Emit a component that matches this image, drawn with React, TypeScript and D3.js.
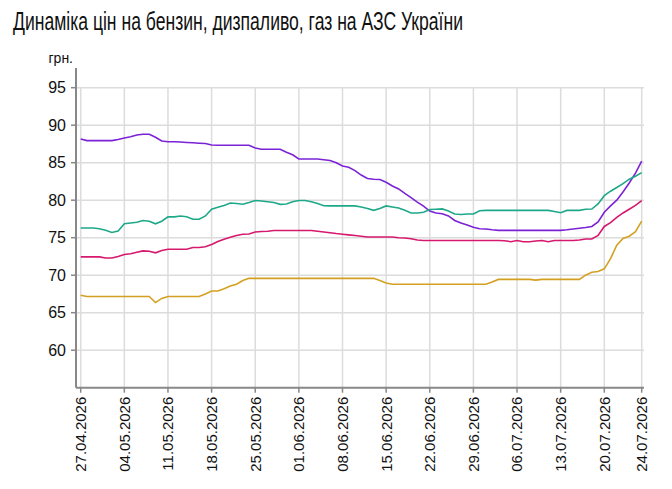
import * as d3 from "d3"
import * as React from "react"

const title = "Динаміка цін на бензин, дизпаливо, газ на АЗС України"
const unitLabel = "грн."

const tickLabels = [
  "27.04.2026", "04.05.2026", "11.05.2026", "18.05.2026", "25.05.2026",
  "01.06.2026", "08.06.2026", "15.06.2026", "22.06.2026", "29.06.2026",
  "06.07.2026", "13.07.2026", "20.07.2026", "24.07.2026",
]
const tickIndex = [0, 7, 14, 21, 28, 35, 42, 49, 56, 63, 70, 77, 84, 90]
const yTicks = [60, 65, 70, 75, 80, 85, 90, 95]

// A-95
const purple = [
  88.15, 87.95, 87.95, 87.95, 87.95, 87.95, 88.1, 88.3, 88.45, 88.7,
  88.8, 88.8, 88.4, 87.9, 87.8, 87.8, 87.75, 87.7, 87.65, 87.6,
  87.55, 87.35, 87.33, 87.33, 87.33, 87.33, 87.33, 87.33, 86.95, 86.8,
  86.8, 86.8, 86.8, 86.4, 86.05, 85.5, 85.5, 85.5, 85.5, 85.4,
  85.3, 85.0, 84.55, 84.4, 83.95, 83.35, 82.9, 82.8, 82.75, 82.4,
  81.9, 81.5, 80.9, 80.35, 79.75, 79.2, 78.55, 78.3, 78.2, 77.9,
  77.3, 76.95, 76.7, 76.38, 76.2, 76.15, 76.05, 75.98, 75.98, 75.98,
  75.98, 75.98, 75.98, 75.98, 75.98, 75.98, 75.98, 75.98, 76.05, 76.16,
  76.25, 76.35, 76.5, 77.1, 78.4, 79.25, 80.0, 81.1, 82.3, 83.6,
  85.2,
]
// A-92
const teal = [
  76.3, 76.3, 76.3, 76.2, 76.0, 75.7, 75.9, 76.85, 76.95, 77.05,
  77.3, 77.2, 76.85, 77.2, 77.78, 77.78, 77.9, 77.8, 77.47, 77.47,
  77.9, 78.8, 79.05, 79.3, 79.62, 79.55, 79.47, 79.7, 79.96, 79.9,
  79.8, 79.7, 79.45, 79.5, 79.8, 79.96, 79.96, 79.8, 79.55, 79.25,
  79.24, 79.24, 79.24, 79.24, 79.24, 79.1, 78.9, 78.65, 78.9, 79.24,
  79.1, 78.95, 78.65, 78.3, 78.3, 78.4, 78.75, 78.8, 78.84, 78.55,
  78.15, 78.1, 78.16, 78.16, 78.6, 78.64, 78.64, 78.64, 78.64, 78.64,
  78.64, 78.64, 78.64, 78.64, 78.64, 78.64, 78.5, 78.33, 78.64, 78.64,
  78.64, 78.8, 78.82, 79.5, 80.6, 81.2, 81.7, 82.2, 82.8, 83.2,
  83.67,
]
// ДП
const magenta = [
  72.44, 72.44, 72.44, 72.44, 72.3, 72.3, 72.5, 72.76, 72.85, 73.05,
  73.24, 73.2, 72.98, 73.3, 73.47, 73.47, 73.47, 73.47, 73.7, 73.7,
  73.8, 74.1, 74.5, 74.8, 75.05, 75.3, 75.47, 75.5, 75.75, 75.82,
  75.85, 75.96, 75.96, 75.96, 75.96, 75.96, 75.96, 75.96, 75.85, 75.75,
  75.65, 75.55, 75.47, 75.38, 75.29, 75.2, 75.1, 75.1, 75.1, 75.1,
  75.1, 75.0, 74.95, 74.85, 74.7, 74.62, 74.62, 74.62, 74.62, 74.62,
  74.62, 74.62, 74.62, 74.62, 74.62, 74.62, 74.62, 74.62, 74.6, 74.47,
  74.62, 74.47, 74.47, 74.55, 74.62, 74.47, 74.62, 74.62, 74.62, 74.62,
  74.7, 74.82, 74.82, 75.3, 76.5, 77.0, 77.7, 78.3, 78.8, 79.3,
  79.95,
]
// газ
const gold = [
  67.33, 67.16, 67.16, 67.16, 67.16, 67.16, 67.16, 67.16, 67.16, 67.16,
  67.16, 67.16, 66.35, 66.9, 67.16, 67.16, 67.16, 67.16, 67.16, 67.16,
  67.5, 67.9, 67.9, 68.2, 68.55, 68.8, 69.3, 69.58, 69.58, 69.58,
  69.58, 69.58, 69.58, 69.58, 69.58, 69.58, 69.58, 69.58, 69.58, 69.58,
  69.58, 69.58, 69.58, 69.58, 69.58, 69.58, 69.58, 69.58, 69.3, 68.95,
  68.8, 68.8, 68.8, 68.8, 68.8, 68.8, 68.8, 68.8, 68.8, 68.8,
  68.8, 68.8, 68.8, 68.8, 68.8, 68.8, 69.1, 69.44, 69.44, 69.44,
  69.44, 69.44, 69.44, 69.35, 69.44, 69.44, 69.44, 69.44, 69.44, 69.44,
  69.44, 70.0, 70.4, 70.5, 70.85, 72.2, 74.0, 74.9, 75.2, 75.8,
  77.2,
]

const series = [
  { values: purple, color: "#7b22d6" },
  { values: teal, color: "#1ea88a" },
  { values: magenta, color: "#d6186e" },
  { values: gold, color: "#d4a021" },
]

const W = 672
const H = 489

export default function App() {
  const x = d3.scaleLinear().domain([0, purple.length - 1]).range([80.7, 641.7])
  const y = d3.scaleLinear().domain([55, 95]).range([387.7, 87.7])
  const line = d3.line<number>().x((_, i) => x(i)).y(d => y(d))
  const axisX = 76
  const axisY = y(55)
  const right = 644

  return (
    <svg width={W} height={H} style={{ position: "absolute", left: 0, top: 0, background: "#fff" }}
      fontFamily="Liberation Sans, Arial, sans-serif">
      <text x={13} y={30} fontSize={25.5} fill="#111" textLength={450} lengthAdjust="spacingAndGlyphs">
        {title}
      </text>
      <text x={73} y={63} fontSize={14} textAnchor="end" fill="#111">{unitLabel}</text>

      {yTicks.map(t => (
        <g key={t}>
          <line x1={axisX} x2={right} y1={y(t)} y2={y(t)} stroke="#dcdcdc" strokeWidth={1.5} />
          <line x1={71} x2={axisX} y1={y(t)} y2={y(t)} stroke="#888" strokeWidth={1.5} />
          <text x={66} y={y(t)} dy="0.36em" fontSize={16} textAnchor="end" fill="#111">{t}</text>
        </g>
      ))}

      {tickIndex.map((ti, k) => (
        <g key={ti}>
          <line x1={x(ti)} x2={x(ti)} y1={y(95)} y2={axisY} stroke="#dcdcdc" strokeWidth={1.5} />
          <line x1={x(ti)} x2={x(ti)} y1={axisY} y2={axisY + 5} stroke="#888" strokeWidth={1.5} />
          <text transform={`translate(${x(ti)},${axisY + 9}) rotate(-90)`} fontSize={15}
            textAnchor="end" dy="0.36em" fill="#111">{tickLabels[k]}</text>
        </g>
      ))}

      <line x1={axisX} x2={axisX} y1={68} y2={axisY} stroke="#888" strokeWidth={2} />
      <line x1={axisX} x2={right} y1={axisY} y2={axisY} stroke="#888" strokeWidth={2} />

      {series.map((s, i) => (
        <path key={i} d={line(s.values) ?? ""} fill="none" stroke={s.color} strokeWidth={1.6} />
      ))}
    </svg>
  )
}
